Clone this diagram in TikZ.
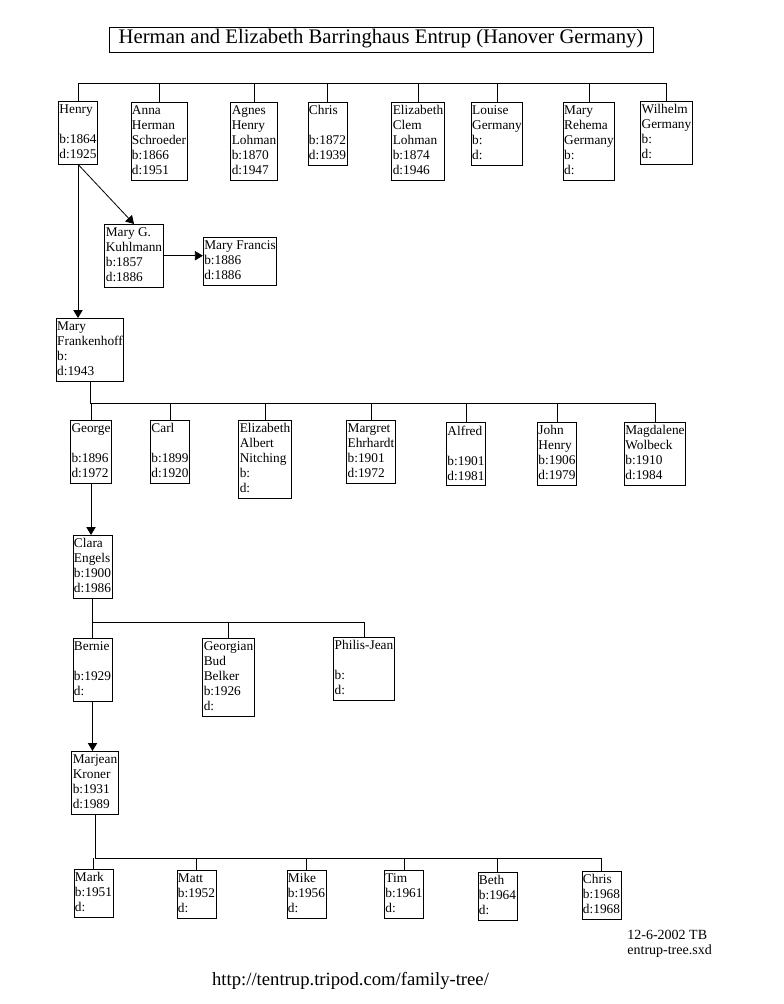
\documentclass[tikz,border=0pt]{standalone}
\usepackage{fontspec}
\setmainfont{Liberation Serif}
\usetikzlibrary{arrows.meta,positioning,calc}

\tikzset{
  person/.style={draw, anchor=north, align=left, inner xsep=0.75pt, inner ysep=2.5pt,
    font=\fontsize{10}{11.25}\selectfont, text depth=1.6pt},
  link/.style={-{Triangle[width=7pt,length=6pt]}},
}

\begin{document}
\begin{tikzpicture}[x=0.75pt,y=-0.75pt,line width=0.6pt]
    \useasboundingbox (0,0) rectangle (783,1004);
    % Title
    \node[draw, inner sep=0pt, minimum width=408pt, minimum height=18.75pt,
      text height=10.2pt, text depth=4.5pt, font=\fontsize{15.5}{18}\selectfont]
      (title) at (381,39.5) {Herman and Elizabeth Barringhaus Entrup (Hanover Germany)};
    \coordinate (bus1) at (0,83);
    \coordinate (bus2) at (0,403);
    \coordinate (bus3) at (0,622);
    \coordinate (bus4) at (0,858);

    % First generation
    \node[person] (henry) at (78,101) {Henry\\\mbox{}\\b:1864\\d:1925};
    \node[person] (anna) at (159,102) {Anna\\Herman\\Schroeder\\b:1866\\d:1951};
    \node[person] (agnes) at (254,102) {Agnes\\Henry\\Lohman\\b:1870\\d:1947};
    \node[person] (chris) at (327.5,102) {Chris\\\mbox{}\\b:1872\\d:1939};
    \node[person] (elizabeth) at (418,102) {Elizabeth\\Clem\\Lohman\\b:1874\\d:1946};
    \node[person] (louise) at (497,102) {Louise\\Germany\\b:\\d:};
    \node[person] (mary) at (589,102) {Mary\\Rehema\\Germany\\b:\\d:};
    \node[person] (wilhelm) at (666.5,101) {Wilhelm\\Germany\\b:\\d:};
    \draw (henry.north |- bus1) -- (wilhelm.north |- bus1);
    \foreach \n in {henry,anna,agnes,chris,elizabeth,louise,mary,wilhelm}
      \draw (\n.north) -- (\n.north |- bus1);

    % Henry's wives
    \node[person] (kuhlmann) at (134,224) {Mary G.\\Kuhlmann\\b:1857\\d:1886};
    \node[person] (francis) at (240,237) {Mary Francis\\b:1886\\d:1886};
    \node[person] (frankenhoff) at (90,318) {Mary\\Frankenhoff\\b:\\d:1943};
    \draw[link] (henry.south) -- (kuhlmann.north);
    \draw[link] (kuhlmann.east) -- (kuhlmann.east -| francis.west);
    \draw[link] (henry.south) -- (henry.south |- frankenhoff.north);

    % Second generation
    \node[person] (george) at (91,420) {George\\\mbox{}\\b:1896\\d:1972};
    \node[person] (carl) at (170,420) {Carl\\\mbox{}\\b:1899\\d:1920};
    \node[person] (nitching) at (265,420) {Elizabeth\\Albert\\Nitching\\b:\\d:};
    \node[person] (margret) at (371,420) {Margret\\Ehrhardt\\b:1901\\d:1972};
    \node[person] (alfred) at (466,422) {Alfred\\\mbox{}\\b:1901\\d:1981};
    \node[person] (john) at (557,422) {John\\Henry\\b:1906\\d:1979};
    \node[person] (magdalene) at (655,422) {Magdalene\\Wolbeck\\b:1910\\d:1984};
    \draw (frankenhoff.south) -- (frankenhoff.south |- bus2) -- (magdalene.north |- bus2);
    \foreach \n in {george,carl,nitching,margret,alfred,john,magdalene}
      \draw (\n.north) -- (\n.north |- bus2);

    \node[person] (clara) at (92.5,535) {Clara\\Engels\\b:1900\\d:1986};
    \draw[link] (george.south) -- (george.south |- clara.north);

    % Third generation
    \node[person] (bernie) at (92.5,638) {Bernie\\\mbox{}\\b:1929\\d:};
    \node[person] (georgian) at (228.5,638) {Georgian\\Bud\\Belker\\b:1926\\d:};
    \node[person] (philis) at (364,637) {Philis-Jean\\\mbox{}\\b:\\d:};
    \draw (clara.south) -- (clara.south |- bus3) -- (philis.north |- bus3);
    \foreach \n in {bernie,georgian,philis}
      \draw (\n.north) -- (\n.north |- bus3);

    \node[person] (marjean) at (95,751) {Marjean\\Kroner\\b:1931\\d:1989};
    \draw[link] (bernie.south) -- (bernie.south |- marjean.north);

    % Fourth generation
    \node[person] (mark) at (93.5,869) {Mark\\b:1951\\d:};
    \node[person] (matt) at (196.5,870) {Matt\\b:1952\\d:};
    \node[person] (mike) at (306.5,870) {Mike\\b:1956\\d:};
    \node[person] (tim) at (404,870) {Tim\\b:1961\\d:};
    \node[person] (beth) at (497.5,872) {Beth\\b:1964\\d:};
    \node[person] (chrisjr) at (601.5,871) {Chris\\b:1968\\d:1968};
    \draw (marjean.south) -- (marjean.south |- bus4) -- (chrisjr.north |- bus4);
    \foreach \n in {mark,matt,mike,tim,beth,chrisjr}
      \draw (\n.north) -- (\n.north |- bus4);

    % Footer
    \node[anchor=north west, align=left, inner sep=0pt,
      font=\fontsize{10.5}{11.25}\selectfont, execute at begin node=\strut]
      (stamp) at (627,930) {12-6-2002 TB\\entrup-tree.sxd};
    \node[anchor=base, inner sep=0pt, font=\fontsize{14}{16}\selectfont]
      (url) at (350.5,985) {http://tentrup.tripod.com/family-tree/};
\end{tikzpicture}
\end{document}
